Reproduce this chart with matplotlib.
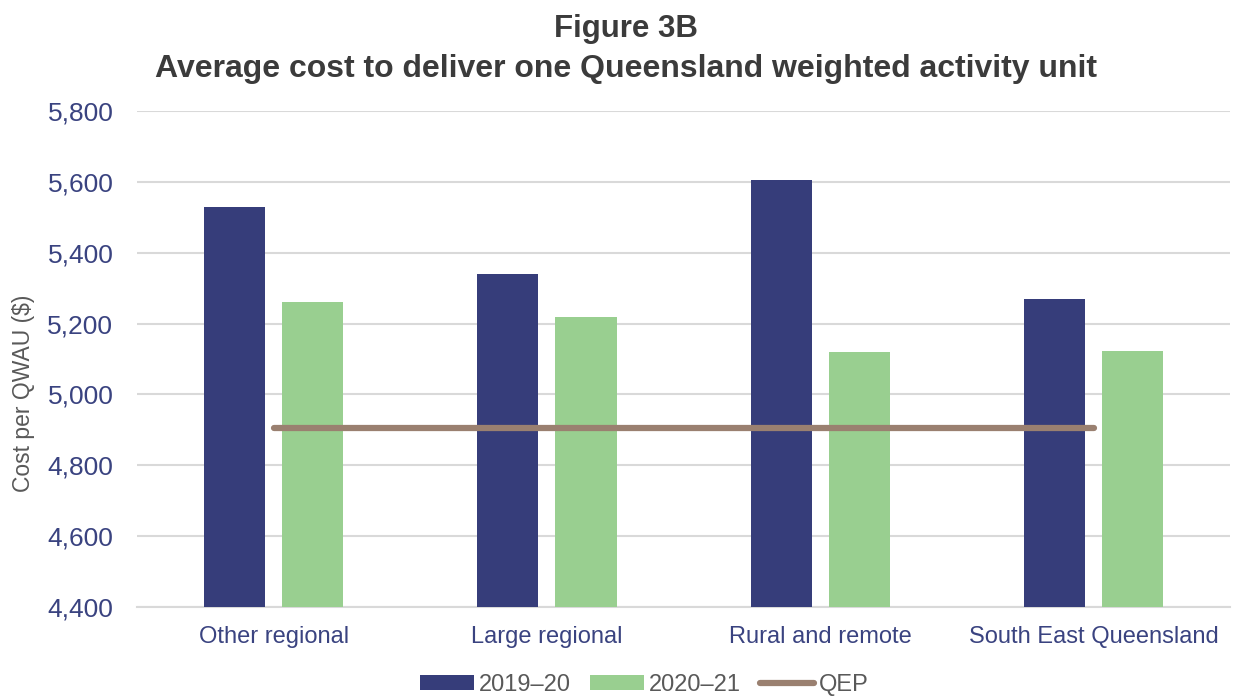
import matplotlib
matplotlib.use("Agg")
import matplotlib.pyplot as plt
import numpy as np
from matplotlib.ticker import FuncFormatter

plt.rcParams['font.family'] = ['Liberation Sans', 'DejaVu Sans']

categories = ['Other regional', 'Large regional', 'Rural and remote', 'South East Queensland']
cost_2019_20 = [5528, 5340, 5605, 5268]
cost_2020_21 = [5262, 5218, 5121, 5122]
qep = [4906, 4906, 4906, 4906]

navy = '#363D7A'
green = '#99CF90'
brown = '#9A8070'
grid_col = '#D9D9D9'

fig = plt.figure(figsize=(12.34, 6.96), dpi=100)
ax = fig.add_axes([0.111, 0.128, 0.886, 0.7125])

x = np.arange(len(categories))
width = 0.224
offset = 0.143

b1 = ax.bar(x - offset, cost_2019_20, width, color=navy, label='2019–20', zorder=3)
b2 = ax.bar(x + offset, cost_2020_21, width, color=green, label='2020–21', zorder=3)
ln, = ax.plot(x, qep, color=brown, linewidth=4.5, solid_capstyle='round', label='QEP', zorder=4)

ax.set_xlim(-0.5, len(categories) - 0.5)
ax.set_ylim(4400, 5800)
ax.set_yticks(np.arange(4400, 5801, 200))
ax.yaxis.set_major_formatter(FuncFormatter(lambda v, p: f'{int(v):,}'))
ax.set_xticks(x)
ax.set_xticklabels(categories)

ax.grid(axis='y', color=grid_col, linewidth=1.5, zorder=0)
for s in ['top', 'right', 'left']:
    ax.spines[s].set_visible(False)
ax.spines['bottom'].set_color(grid_col)
ax.spines['bottom'].set_linewidth(1.5)

ax.tick_params(axis='y', length=0, labelsize=19, labelcolor='#3A4380', pad=17)
ax.tick_params(axis='x', length=0, labelsize=17, labelcolor='#3A4380', pad=14)

ax.set_ylabel('Cost per QWAU ($)', fontsize=16.5, color='#595959', va='center')
ax.yaxis.set_label_coords(-0.104, 0.431)

fig.text(0.507, 0.958, 'Figure 3B', ha='center', va='center',
         fontsize=22.5, fontweight='bold', color='#3B3B3B')
fig.text(0.507, 0.901, 'Average cost to deliver one Queensland weighted activity unit',
         ha='center', va='center', fontsize=23, fontweight='bold', color='#3B3B3B')

leg = fig.legend([b1, b2, ln], ['2019–20', '2020–21', 'QEP'], loc='center',
                 bbox_to_anchor=(0.522, 0.016), ncol=3, frameon=False,
                 fontsize=17, handlelength=2.3, handleheight=0.55, columnspacing=0.8,
                 handletextpad=0.2)
for t in leg.get_texts():
    t.set_color('#595959')

fig.savefig('out.png', dpi=100)
